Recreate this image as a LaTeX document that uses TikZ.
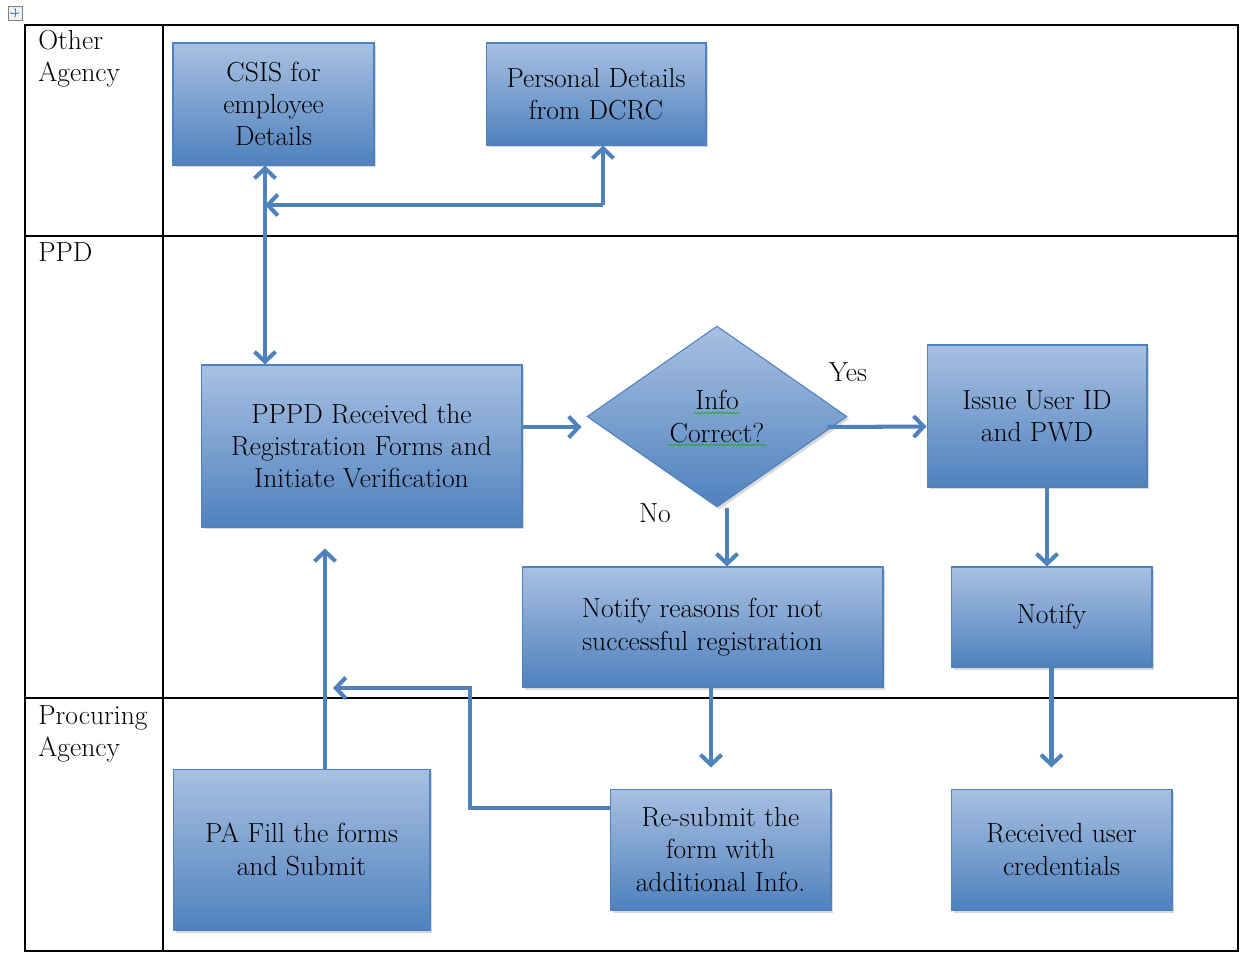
\documentclass[tikz,border=0pt]{standalone}
\usepackage{tikz}
\usetikzlibrary{positioning,shapes.geometric,arrows.meta,shadows,decorations.pathmorphing}

\definecolor{flowblue}{RGB}{79,129,189}
\definecolor{flowlight}{RGB}{168,192,226}
\definecolor{spellgreen}{RGB}{40,165,40}

\tikzset{
  box/.style={rectangle, draw=flowblue, line width=0.6pt, top color=flowlight, bottom color=flowblue,
    align=center, inner sep=2pt, font=\fontsize{15.7}{18.4}\selectfont,
    drop shadow={opacity=0.3, shadow xshift=0.5mm, shadow yshift=-0.5mm}},
  decision/.style={box, diamond, aspect=1.44, inner sep=0pt},
  lane/.style={anchor=north west, align=left, inner sep=0pt, font=\fontsize{15.7}{18.4}\selectfont},
  flow/.style={draw=flowblue, line width=2.3pt, -{Straight Barb[length=2mm,width=4.2mm]}},
  grid/.style={draw=black, line width=0.8pt},
  spell/.style={draw=spellgreen, line width=0.4pt, decorate, decoration={snake, amplitude=0.5pt, segment length=2pt}}
}

\begin{document}
\begin{tikzpicture}[x=0.02cm, y=-0.02cm]
\useasboundingbox (0,0) rectangle (1240,954);

% table move handle
\node[draw=gray, fill=gray!10, minimum size=0.28cm, inner sep=0pt] (handle) at (15,13) {};
\draw[flowblue, line width=0.4pt, {Stealth[length=1.2pt]}-{Stealth[length=1.2pt]}] (handle.west) ++(2,0) -- ++(10,0);
\draw[flowblue, line width=0.4pt, {Stealth[length=1.2pt]}-{Stealth[length=1.2pt]}] (handle.north) ++(0,2) -- ++(0,10);

% swim lanes
\draw[grid] (25,25) rectangle (1238,951);
\draw[grid] (163,25) -- (163,951);
\draw[grid] (25,236) -- (1238,236);
\draw[grid] (25,698) -- (1238,698);
\node[lane] (other) at (38,30) {Other\\Agency};
\node[lane] (ppd) at (38,242) {PPD};
\node[lane] (proc) at (38,705) {Procuring\\Agency};

% boxes
\node[box, minimum width=4.02cm, minimum height=2.44cm] (csis) at (273.5,104) {CSIS for\\employee\\Details};
\node[box, minimum width=4.4cm, minimum height=2.04cm] (pers) at (596,94) {Personal Details\\from DCRC};
\node[box, minimum width=6.42cm, minimum height=3.24cm] (pppd) at (361.5,446) {PPPD Received the\\Registration Forms and\\Initiate Verification};
\node[decision, minimum width=5.2cm, minimum height=3.62cm] (dia) at (717,416.5) {Info\\Correct?};
\node[box, minimum width=4.4cm, minimum height=2.84cm] (issue) at (1037,416) {Issue User ID\\and PWD};
\node[box, minimum width=7.22cm, minimum height=2.4cm] (notr) at (702.5,627) {Notify reasons for not\\successful registration};
\node[box, minimum width=4.02cm, minimum height=2.0cm] (notify) at (1051.5,617) {Notify};
\node[box, minimum width=5.14cm, minimum height=3.22cm] (pa) at (301.5,849.5) {PA Fill the forms\\and Submit};
\node[box, minimum width=4.42cm, minimum height=2.42cm] (resub) at (720.5,849.5) {Re-submit the\\form with\\additional Info.};
\node[box, minimum width=4.42cm, minimum height=2.42cm] (recv) at (1061.5,849.5) {Received user\\credentials};

\draw[spell] (694,413) -- (740,413);
\draw[spell] (667,445) -- (767,445);

\node[font=\fontsize{15.7}{18.4}\selectfont] (yes) at (848,372) {Yes};
\node[font=\fontsize{15.7}{18.4}\selectfont] (no) at (655,513) {No};

% connectors
\coordinate (split) at (603,205);
\coordinate (vline) at (265,205);
\coordinate (bend) at (470,688);
\coordinate (back) at (333,688);

\draw[flow] (split) -- (vline);
\draw[flow] (split) -- (pers.south -| split);
\draw[flow, {Straight Barb[length=2mm,width=4.2mm]}-{Straight Barb[length=2mm,width=4.2mm]}] (csis.south -| vline) -- (pppd.north -| vline);
\draw[flow, shorten >=0.1cm] ([yshift=0.38cm]pppd.east) -- ([yshift=0.38cm]pppd.east -| dia.west);
\draw[flow] ([xshift=-0.4cm, yshift=-0.21cm]dia.east) -- ([yshift=-0.21cm]issue.west);
\draw[flow] ([xshift=0.2cm]dia.south) -- ([xshift=0.2cm]dia.south |- notr.north);
\draw[flow] ([xshift=0.2cm]issue.south) -- ([xshift=0.2cm]issue.south |- notify.north);
\draw[flow, shorten >=0.42cm] ([xshift=0.17cm]notr.south) -- ([xshift=0.17cm]notr.south |- resub.north);
\draw[flow, shorten >=0.42cm] (notify.south) -- (notify.south |- recv.north);
\draw[flow, shorten >=0.42cm] ([xshift=0.47cm]pa.north) -- ([xshift=0.47cm]pa.north |- pppd.south);
\draw[flow] ([yshift=0.83cm]resub.west) -| (bend) -- (back);
\end{tikzpicture}
\end{document}
